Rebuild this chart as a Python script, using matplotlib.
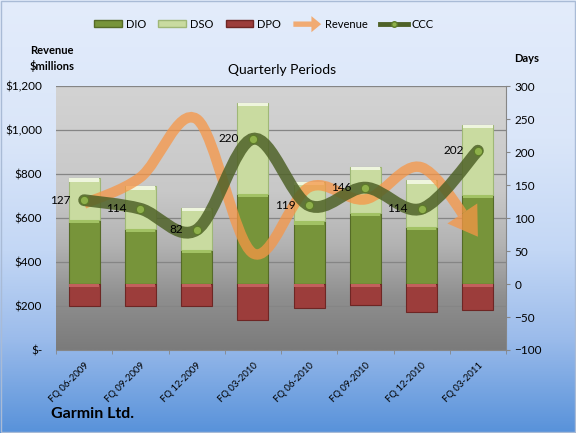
import numpy as np
import matplotlib
matplotlib.use("Agg")
import matplotlib.pyplot as plt
from matplotlib.path import Path
from matplotlib.patches import PathPatch, Polygon, Patch, Rectangle, FancyArrow
from matplotlib.lines import Line2D
from matplotlib.legend_handler import HandlerPatch
from matplotlib.bezier import BezierSegment, split_de_casteljau
from matplotlib.colors import LinearSegmentedColormap

plt.rcParams['font.family'] = ['Lato', 'DejaVu Sans']

periods = ['FQ 06-2009', 'FQ 09-2009', 'FQ 12-2009', 'FQ 03-2010',
           'FQ 06-2010', 'FQ 09-2010', 'FQ 12-2010', 'FQ 03-2011']
dio = [97, 84, 52, 137, 95, 108, 87, 135]
dso = [63, 64, 63, 137, 60, 70, 70, 106]
dpo = [33, 34, 33, 54, 36, 32, 43, 39]
ccc = [127, 114, 82, 220, 119, 146, 114, 202]
revenue = [665, 785, 1050, 440, 740, 685, 830, 515]

rev_ticks = [0, 200, 400, 600, 800, 1000, 1200]
rev_labels = ['$-', '$200', '$400', '$600', '$800', '$1,000', '$1,200']
day_ticks = [-100, -50, 0, 50, 100, 150, 200, 250, 300]

C_DIO, C_DIO_E, C_DIO_H = '#77943a', '#556b27', '#a2c264'
C_DSO, C_DSO_E, C_DSO_H = '#c9dba0', '#9fb777', '#eef5dd'
C_DPO, C_DPO_E, C_DPO_H = '#9c3d3b', '#6e2624', '#c2605d'
C_REV = '#f79646'
C_CCC = '#4f6228'


def smooth_path(xs, ys):
    # Excel style smoothed line: cubic bezier through every point
    pts = np.column_stack([xs, ys]).astype(float)
    ext = np.vstack([pts[0], pts, pts[-1]])
    verts, codes = [pts[0]], [Path.MOVETO]
    for i in range(len(pts) - 1):
        p0, p1, p2, p3 = ext[i], ext[i + 1], ext[i + 2], ext[i + 3]
        verts += [p1 + (p2 - p0) / 6, p2 - (p3 - p1) / 6, p2]
        codes += [Path.CURVE4] * 3
    return np.array(verts), codes


def gradient(ax, stops, transform, zorder):
    cmap = LinearSegmentedColormap.from_list('g', stops)
    grad = np.linspace(1, 0, 256).reshape(-1, 1)
    ax.imshow(grad, cmap=cmap, aspect='auto', extent=(0, 1, 0, 1),
              transform=transform, zorder=zorder, vmin=0, vmax=1)


fig = plt.figure(figsize=(5.76, 4.33), dpi=100)

bg = fig.add_axes([0, 0, 1, 1], zorder=-10)
bg.set_xlim(0, 1)
bg.set_ylim(0, 1)
gradient(bg, [(0, '#5892da'), (0.22, '#9cbceb'), (0.42, '#c3d7f5'),
              (0.68, '#dae6f9'), (1, '#e3ecfb')], bg.transAxes, 0)
bg.axis('off')
fig.patches.append(Rectangle((0.002, 0.002), 0.996, 0.996, transform=fig.transFigure,
                             fill=False, edgecolor='#a9bbd6', lw=1))

ax = fig.add_axes([56 / 576, 1 - 350 / 433, 450 / 576, 264 / 433])
ax.patch.set_visible(False)
gradient(ax, [(0, '#7b7b7b'), (0.2, '#8f8f8f'), (0.4, '#b3b3b3'),
              (0.6, '#c8c8c8'), (1, '#d3d3d3')], ax.transAxes, -1)
ax.set_ylim(0, 1200)
ax.set_xlim(-0.5, len(periods) - 0.5)
ax.set_yticks(rev_ticks)
ax.set_yticklabels(rev_labels)
ax.tick_params(axis='y', length=0, pad=10, labelsize=8.5)
ax.grid(axis='y', color='#858585', lw=0.9)
ax.set_axisbelow(True)
for s in ['left', 'top', 'right']:
    ax.spines[s].set_visible(False)
ax.spines['bottom'].set_color('#868686')

x = np.arange(len(periods))
ax.set_xticks(x)
ax.set_xticklabels(periods, rotation=45, ha='right', rotation_mode='anchor', fontsize=6.8)
ax.set_xticks(np.arange(len(periods) + 1) - 0.5, minor=True)
ax.tick_params(axis='x', which='major', length=0, pad=8)
ax.tick_params(axis='x', which='minor', length=3, color='#868686')

ax2 = ax.twinx()
ax2.set_ylim(-100, 300)
ax2.set_yticks(day_ticks)
ax2.tick_params(axis='y', length=3, color='#868686', labelsize=8.5, pad=3)
for s in ['left', 'top', 'bottom']:
    ax2.spines[s].set_visible(False)
ax2.spines['right'].set_color('#868686')

# stacked bars
w = 0.55
hl = 5
dio_a, dso_a, dpo_a = np.array(dio), np.array(dso), np.array(dpo)
ax2.bar(x, dio_a, w, color=C_DIO, edgecolor=C_DIO_E, lw=0.8, zorder=2)
ax2.bar(x, dso_a, w, bottom=dio_a, color=C_DSO, edgecolor=C_DSO_E, lw=0.8, zorder=2)
ax2.bar(x, -dpo_a, w, color=C_DPO, edgecolor=C_DPO_E, lw=0.8, zorder=2)
ax2.bar(x, -hl, w * 0.96, bottom=dio_a, color=C_DIO_H, lw=0, zorder=2.1)
ax2.bar(x, -hl, w * 0.96, bottom=dio_a + dso_a, color=C_DSO_H, lw=0, zorder=2.1)
ax2.bar(x, -hl, w * 0.96, bottom=0, color=C_DPO_H, lw=0, zorder=2.1)

# revenue: smoothed line with arrow head, on the left scale
fig.canvas.draw()
rv, rc = smooth_path(x, revenue)
disp = ax.transData.transform(rv)
ctrl = disp[-4:].copy()
pts = BezierSegment(ctrl)(np.linspace(0, 1, 500))
dist = np.hypot(*(pts - ctrl[-1]).T)
t_cut = np.linspace(0, 1, 500)[np.argmin(np.abs(dist - 28))]
left, _ = split_de_casteljau(ctrl, t_cut)
disp[-4:] = left
base, tip = left[-1], ctrl[-1]
u = (tip - base) / np.hypot(*(tip - base))
n = np.array([-u[1], u[0]])
head = np.array([base + n * 18, tip, base - n * 18])
inv = ax.transData.inverted()
ax2.add_patch(PathPatch(Path(inv.transform(disp), rc), transform=ax.transData,
                        fill=False, edgecolor=C_REV, lw=7.5, alpha=0.75,
                        capstyle='butt', zorder=3))
ax2.add_patch(Polygon(inv.transform(head), closed=True, transform=ax.transData,
                      facecolor=C_REV, edgecolor='none', alpha=0.75, zorder=3))

# CCC smoothed line
cv, cc = smooth_path(x, ccc)
ax2.add_patch(PathPatch(Path(cv, cc), fill=False, edgecolor=C_CCC, lw=8.5,
                        alpha=0.85, capstyle='round', zorder=4))
ax2.plot(x, ccc, 'o', ms=6, mfc='#8eb04a', mec='#5d7a2a', mew=0.8, zorder=5)
for xi, v in zip(x, ccc):
    ax2.annotate(str(v), (xi, v), xytext=(-10, 0), textcoords='offset points',
                 ha='right', va='center', fontsize=8.5, zorder=6)


def make_arrow(legend, orig_handle, xdescent, ydescent, width, height, fontsize):
    return FancyArrow(0, height / 2, width, 0, width=height * 0.8,
                      head_width=height * 2.4, head_length=width * 0.35,
                      length_includes_head=True)


handles = [Patch(facecolor=C_DIO, edgecolor=C_DIO_E),
           Patch(facecolor=C_DSO, edgecolor=C_DSO_E),
           Patch(facecolor=C_DPO, edgecolor=C_DPO_E),
           FancyArrow(0, 0, 1, 0, color=C_REV, alpha=0.75, lw=0),
           Line2D([], [], color=C_CCC, lw=3.5, marker='o', ms=4, mfc='#8eb04a', mec='#5d7a2a')]
fig.legend(handles, ['DIO', 'DSO', 'DPO', 'Revenue', 'CCC'], loc='center',
           bbox_to_anchor=(264 / 576, 1 - 24 / 433), ncol=5, frameon=False,
           fontsize=8, handlelength=2.5, handleheight=0.55, columnspacing=1.1,
           handletextpad=0.35, handler_map={FancyArrow: HandlerPatch(patch_func=make_arrow)})

fig.text(282 / 576, 1 - 70 / 433, 'Quarterly Periods', ha='center', va='center', fontsize=10)
fig.text(52 / 576, 1 - 59 / 433, 'Revenue\n$millions', ha='center', va='center',
         fontsize=8, fontweight='bold', linespacing=1.4)
fig.text(527 / 576, 1 - 58 / 433, 'Days', ha='center', va='center', fontsize=8, fontweight='bold')
fig.text(51 / 576, 1 - 414 / 433, 'Garmin Ltd.', ha='left', va='center',
         fontsize=11.5, fontweight='bold')

fig.savefig('out.png', dpi=100)
